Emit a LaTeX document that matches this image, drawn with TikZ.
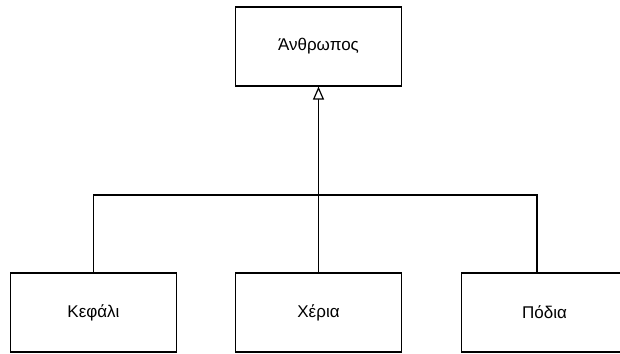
\documentclass[tikz,border=0pt]{standalone}
\usepackage{fontspec}
\setmainfont{Liberation Sans}
\usetikzlibrary{arrows.meta}
\begin{document}
\begin{tikzpicture}[x=1pt,y=-1pt,
  box/.style={draw=black, line width=1.2pt, fill=white, minimum width=166pt, minimum height=79pt, inner sep=0pt, font=\fontsize{17}{20}\selectfont},
  link/.style={draw=black, line width=1.2pt},
  inh/.style={link, -{Triangle[open, width=11pt, length=13pt, fill=white]}}]
\useasboundingbox (0,0) rectangle (620,353);
\node[box] (a) at (318.5,46.5) {Άνθρωπος};
\node[box] (k) at (93.5,312.5) {Κεφάλι};
\node[box] (x) at (318.5,312.5) {Χέρια};
\node[box] (p) at (544.5,312.5) {Πόδια};
\coordinate (j) at (318.5,195);
\draw[link] (k.north) |- (j);
\draw[link] ([xshift=76pt]p.north west) |- (j);
\draw[link] (x.north) -- (j);
\draw[inh] (j) -- (a.south);
\end{tikzpicture}
\end{document}
